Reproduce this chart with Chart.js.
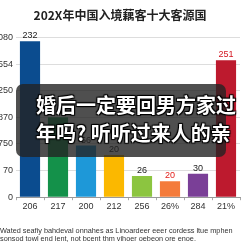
<!DOCTYPE html>
<html lang="zh">
<head>
    <meta charset="UTF-8">
    <title>202X年中国入境游客十大客源国</title>
    <script src="https://cdn.jsdelivr.net/npm/chart.js"></script>
    <style>
        body { margin: 0; background: #fff; }
        #wrap { position: relative; width: 243px; height: 243px; overflow: hidden; }
        #note {
            position: absolute; left: 0; top: 227px; width: 260px;
            font: 7.3px "Liberation Sans", Arial, sans-serif; line-height: 8px;
            color: #333; white-space: nowrap;
        }
        #overlay {
            position: absolute; left: 16px; top: 84px; width: 210px; height: 73px;
            background: rgba(35, 35, 35, 0.8); border-radius: 7px;
        }
        #overlay-text {
            position: absolute; left: 36px; top: 91px; color: #fff;
            font: bold 20px "Noto Sans CJK SC", sans-serif; line-height: 28px;
            white-space: nowrap;
            text-shadow: 1px 1px 1px #000, -1px -1px 1px #000, 1px -1px 1px #000, -1px 1px 1px #000;
        }
    </style>
</head>
<body>
<div id="wrap">
    <canvas id="barChart" width="243" height="243"></canvas>
    <div id="overlay"></div>
    <div id="overlay-text">婚后一定要回男方家过<br>年吗?&nbsp;听听过来人的亲</div>
    <div id="note">Wated seafiy bahdeval onnahes as Linoardeer eeer cordess ltue mphen<br>sonsod towl end lent, not bcent thm vihoer oebeon ore enoe.</div>
</div>

<script>
    // chart data
    const categories = ['206', '217', '200', '212', '256', '26%', '284', '21%'];
    const values = [293, 150, 97, 79, 40, 30, 44, 257];
    const barLabels = ['232', '', '56', '20', '26', '20', '30', '251'];
    const yTickLabels = ['0', '70', '750', '870', '250', '554', '080'];
    const barColors = ['#0b4c8f', '#14914a', '#1e98d8', '#fbb800', '#8cc540', '#f47b3b', '#7a3f97', '#bd1a2e'];
    const labelColors = ['#222', '#222', '#222', '#222', '#222', '#e3201c', '#222', '#d3141f'];

    // draws the number above each bar
    const barValuePlugin = {
        id: 'barValues',
        afterDatasetsDraw(chart) {
            const ctx = chart.ctx;
            const meta = chart.getDatasetMeta(0);
            ctx.save();
            ctx.font = '9px "Liberation Sans", Arial, sans-serif';
            ctx.textAlign = 'center';
            ctx.textBaseline = 'bottom';
            meta.data.forEach((bar, i) => {
                ctx.fillStyle = labelColors[i];
                ctx.fillText(barLabels[i], bar.x, bar.y - 1);
            });
            ctx.restore();
        }
    };

    const ctx = document.getElementById('barChart').getContext('2d');
    new Chart(ctx, {
        type: 'bar',
        data: {
            labels: categories,
            datasets: [{
                data: values,
                backgroundColor: barColors,
                barPercentage: 0.72,
                categoryPercentage: 1
            }]
        },
        options: {
            responsive: false,
            animation: false,
            layout: { padding: { top: 0, right: 3, bottom: 30, left: 0 } },
            plugins: {
                legend: { display: false },
                tooltip: { enabled: false },
                title: {
                    display: true,
                    text: '202X年中国入境藕客十大客源国',
                    color: '#222',
                    font: { family: '"Noto Sans CJK SC", sans-serif', size: 12, weight: 'bold' },
                    padding: { top: 8, bottom: 15 }
                }
            },
            scales: {
                x: {
                    grid: { drawOnChartArea: false, drawTicks: true, tickLength: 3, color: '#aaa' },
                    border: { color: '#999' },
                    ticks: { color: '#333', font: { size: 9, family: '"Liberation Sans", Arial, sans-serif' }, padding: 1 }
                },
                y: {
                    min: 0,
                    max: 300,
                    afterFit(scale) { scale.width = 16; },
                    grid: { color: '#ddd', drawTicks: false },
                    border: { display: false },
                    ticks: {
                        stepSize: 50,
                        padding: 3,
                        color: '#333',
                        font: { size: 9, family: '"Liberation Sans", Arial, sans-serif' },
                        callback: (v, i) => yTickLabels[i]
                    }
                }
            }
        },
        plugins: [barValuePlugin]
    });
</script>
</body>
</html>
